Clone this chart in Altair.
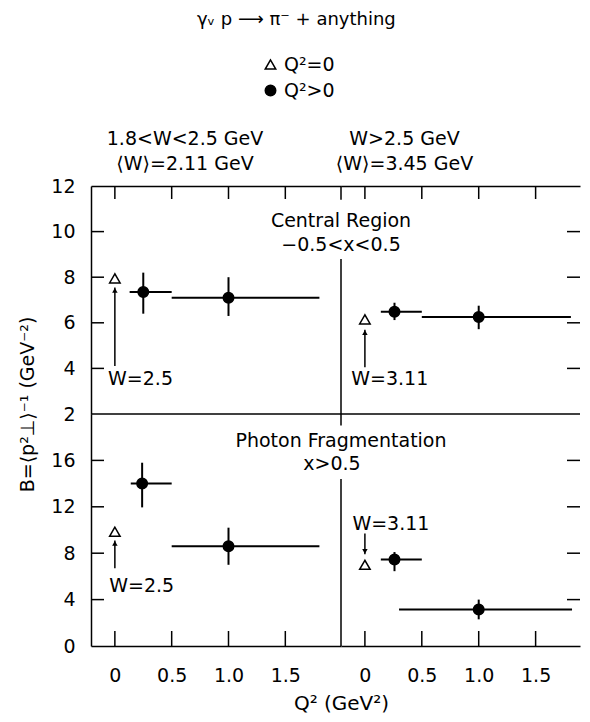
import altair as alt
import pandas as pd

FONT = "DejaVu Sans"
INK = "black"

# ---------------- data ----------------
# Q^2 > 0 points (filled circles) with error bars
q2p_panel = ["TL", "TL", "TR", "TR", "BL", "BL", "BR", "BR"]
q2p_x = [0.25, 1.0, 0.26, 1.0, 0.24, 1.0, 0.26, 1.0]
q2p_xlo = [0.13, 0.5, 0.14, 0.5, 0.14, 0.5, 0.14, 0.3]
q2p_xhi = [0.5, 1.8, 0.5, 1.81, 0.5, 1.8, 0.5, 1.82]
q2p_B = [7.35, 7.1, 6.48, 6.25, 14.0, 8.6, 7.45, 3.15]
q2p_Blo = [6.4, 6.3, 6.12, 5.72, 11.95, 7.0, 6.45, 2.3]
q2p_Bhi = [8.2, 8.0, 6.88, 6.75, 15.8, 10.2, 8.1, 4.0]

# Q^2 = 0 points (open triangles)
q20_panel = ["TL", "TR", "BL", "BR"]
q20_x = [0.0, 0.0, 0.0, 0.0]
q20_B = [7.95, 6.15, 9.85, 7.0]

# W arrows pointing at the Q^2 = 0 points
arrow_panel = ["TL", "TR", "BL", "BR"]
arrow_x = [0.0, 0.0, 0.0, 0.0]
arrow_from = [4.1, 4.05, 6.7, 9.7]
arrow_to = [7.55, 5.7, 9.1, 7.9]
arrow_text = ["W=2.5", "W=3.11", "W=2.5", "W=3.11"]
arrow_text_x = [-0.06, -0.12, -0.05, -0.11]
arrow_text_y = [3.55, 3.55, 5.2, 10.5]

# region labels (written across the central divider)
region_panel = ["TL", "TL", "BL", "BL"]
region_text = ["Central Region", "\u22120.5<x<0.5", "Photon Fragmentation", "x>0.5"]
region_x = [1.99, 1.99, 1.99, 1.91]
region_y = [10.48, 9.4, 17.7, 15.65]

# central divider segments (gaps left for the region labels)
div_panel = ["TL", "TL", "BL", "BL"]
div_lo = [2.0, 11.4, 0.0, 19.0]
div_hi = [8.8, 12.0, 14.4, 20.0]
div_x = 1.99

# axes
x_dom_left = [-0.21, 1.99]
x_dom_right = [-0.21, 1.89]
y_dom_top = [2, 12]
y_dom_bot = [0, 20]
x_tick_vals = [0, 0.5, 1.0, 1.5]
y_ticks_top = [4, 6, 8, 10]
y_ticks_bot = [4, 8, 12, 16]
y_labels_top = [2, 4, 6, 8, 10, 12]
y_labels_bot = [0, 4, 8, 12, 16]

kinds = ["Q\u00b2=0", "Q\u00b2>0"]
headers = {
    "TL": ["1.8<W<2.5 GeV", "\u27e8W\u27e9=2.11 GeV"],
    "TR": ["W>2.5 GeV", "\u27e8W\u27e9=3.45 GeV"],
}
main_title = "\u03b3\u1d65 p \u27f6 \u03c0\u207b + anything"
y_title = "B=\u27e8p\u00b2\u22a5\u27e9\u207b\u00b9 (GeV\u207b\u00b2)"
x_title = "Q\u00b2 (GeV\u00b2)"

# ---------------- tables ----------------
pts = pd.DataFrame({
    "panel": q2p_panel + q20_panel,
    "x": q2p_x + q20_x,
    "B": q2p_B + q20_B,
    "kind": [kinds[1]] * len(q2p_x) + [kinds[0]] * len(q20_x),
})
bars = pd.DataFrame({"panel": q2p_panel, "x": q2p_x, "xlo": q2p_xlo, "xhi": q2p_xhi,
                     "B": q2p_B, "Blo": q2p_Blo, "Bhi": q2p_Bhi})
arrows = pd.DataFrame({"panel": arrow_panel, "x": arrow_x, "from": arrow_from, "to": arrow_to,
                       "text": arrow_text, "tx": arrow_text_x, "ty": arrow_text_y})
arrows["dir"] = ["up" if t > f else "down" for f, t in zip(arrow_from, arrow_to)]
regions = pd.DataFrame({"panel": region_panel, "text": region_text, "x": region_x, "y": region_y})
divs = pd.DataFrame({"panel": div_panel, "lo": div_lo, "hi": div_hi, "x": [div_x] * len(div_lo)})

shape_scale = alt.Scale(domain=kinds, range=["triangle-up", "circle"])
fill_scale = alt.Scale(domain=kinds, range=["white", "black"])
stroke_scale = alt.Scale(domain=kinds, range=["black", "black"])
legend = alt.Legend(title=None, orient="none", legendX=170, legendY=-131,
                    direction="vertical", symbolSize=110, symbolStrokeColor=INK,
                    symbolStrokeWidth=1.5, labelFont=FONT, labelFontSize=19,
                    labelOffset=4, rowPadding=6, labelColor=INK)


def make_panel(p, W, H, xdom, ydom):
    top = p[0] == "T"
    left = p[1] == "L"
    xs = alt.Scale(domain=xdom, nice=False, zero=False)
    ys = alt.Scale(domain=ydom, nice=False, zero=False)
    if top:
        xaxis = alt.Axis(orient="top", labels=False, ticks=False, domain=True, grid=False,
                         title=None, domainColor=INK, domainWidth=1.5)
    else:
        xaxis = alt.Axis(orient="bottom", values=x_tick_vals, ticks=False, domain=True, grid=False,
                         labelExpr="datum.value == 0 ? '0' : format(datum.value, '.1f')",
                         labelPadding=20, labelFont=FONT, labelFontSize=19, labelColor=INK,
                         domainColor=INK, domainWidth=1.5,
                         title=(x_title if left else None),
                         titleX=W, titleY=57, titleAlign="center", titleBaseline="middle",
                         titleFont=FONT, titleFontSize=20, titleFontWeight="normal", titleColor=INK)
    if left:
        yaxis = alt.Axis(orient="left", values=(y_labels_top if top else y_labels_bot),
                         ticks=False, domain=True, grid=False, labelPadding=16,
                         labelFont=FONT, labelFontSize=19, labelColor=INK,
                         domainColor=INK, domainWidth=1.5,
                         title=(y_title if top else None),
                         titleX=-64, titleY=218, titleAngle=-90, titleAlign="center",
                         titleBaseline="middle", titleFont=FONT, titleFontSize=19,
                         titleFontWeight="normal", titleColor=INK)
    else:
        yaxis = None

    b = bars[bars.panel == p]
    hb = alt.Chart(b).mark_rule(color=INK, strokeWidth=2).encode(
        x=alt.X("xlo:Q", scale=xs, axis=xaxis), x2="xhi:Q",
        y=alt.Y("B:Q", scale=ys, axis=yaxis))
    vb = alt.Chart(b).mark_rule(color=INK, strokeWidth=2).encode(
        x=alt.X("x:Q", scale=xs), y=alt.Y("Blo:Q", scale=ys), y2="Bhi:Q")
    pt = alt.Chart(pts[pts.panel == p]).mark_point(
        filled=True, strokeWidth=1.5, size=110, opacity=1).encode(
        x=alt.X("x:Q", scale=xs), y=alt.Y("B:Q", scale=ys),
        shape=alt.Shape("kind:N", scale=shape_scale, legend=legend),
        fill=alt.Fill("kind:N", scale=fill_scale, legend=legend),
        stroke=alt.Stroke("kind:N", scale=stroke_scale, legend=legend))
    a = arrows[arrows.panel == p]
    shaft = alt.Chart(a).mark_rule(color=INK, strokeWidth=1.5).encode(
        x=alt.X("x:Q", scale=xs), y=alt.Y("from:Q", scale=ys), y2="to:Q")
    head_up = alt.Chart(a[a.dir == "up"]).mark_point(
        shape="triangle-up", filled=True, color=INK, size=30, yOffset=3, opacity=1).encode(
        x=alt.X("x:Q", scale=xs), y=alt.Y("to:Q", scale=ys))
    head_dn = alt.Chart(a[a.dir == "down"]).mark_point(
        shape="triangle-down", filled=True, color=INK, size=30, yOffset=-3, opacity=1).encode(
        x=alt.X("x:Q", scale=xs), y=alt.Y("to:Q", scale=ys))
    wtxt = alt.Chart(a).mark_text(align="left", baseline="middle", font=FONT, fontSize=19,
                                  color=INK).encode(
        x=alt.X("tx:Q", scale=xs), y=alt.Y("ty:Q", scale=ys), text="text:N")

    ytv = y_ticks_top if top else y_ticks_bot
    ytick_df = pd.DataFrame({"v": ytv})
    if left:
        ytk = alt.Chart(ytick_df).mark_rule(color=INK, strokeWidth=1.5).encode(
            y=alt.Y("v:Q", scale=ys), x=alt.value(0), x2=alt.value(13))
    else:
        ytk = alt.Chart(ytick_df).mark_rule(color=INK, strokeWidth=1.5).encode(
            y=alt.Y("v:Q", scale=ys), x=alt.value(W - 13), x2=alt.value(W))
    xtick_df = pd.DataFrame({"v": x_tick_vals})
    if top:
        xtk = alt.Chart(xtick_df).mark_rule(color=INK, strokeWidth=1.5).encode(
            x=alt.X("v:Q", scale=xs), y=alt.value(0), y2=alt.value(13))
    else:
        xtk = alt.Chart(xtick_df).mark_rule(color=INK, strokeWidth=1.5).encode(
            x=alt.X("v:Q", scale=xs), y=alt.value(H - 15), y2=alt.value(H))

    layers = [hb, vb, shaft, head_up, head_dn, pt, wtxt, ytk, xtk]
    if top:
        mid = alt.Chart(pd.DataFrame({"a": [xdom[0]], "b": [xdom[1]], "y": [ydom[0]]})).mark_rule(
            color=INK, strokeWidth=1.5).encode(
            x=alt.X("a:Q", scale=xs), x2="b:Q", y=alt.Y("y:Q", scale=ys))
        layers.append(mid)
    if left:
        d = divs[divs.panel == p]
        dv = alt.Chart(d).mark_rule(color=INK, strokeWidth=1.5).encode(
            x=alt.X("x:Q", scale=xs), y=alt.Y("lo:Q", scale=ys), y2="hi:Q")
        r = regions[regions.panel == p]
        rt = alt.Chart(r).mark_text(align="center", baseline="middle", font=FONT, fontSize=19,
                                    color=INK).encode(
            x=alt.X("x:Q", scale=xs), y=alt.Y("y:Q", scale=ys), text="text:N")
        layers += [dv, rt]

    ch = alt.layer(*layers).properties(width=W, height=H)
    if top:
        ch = ch.properties(title=alt.TitleParams(
            text=headers[p], anchor="middle", frame="group", dx=(-31 if left else -56),
            offset=(3 if left else 11), font=FONT, fontSize=19, fontWeight="normal",
            color=INK, lineHeight=25))
    return ch


TL = make_panel("TL", 250, 228, x_dom_left, y_dom_top)
TR = make_panel("TR", 239, 228, x_dom_right, y_dom_top)
BL = make_panel("BL", 250, 232, x_dom_left, y_dom_bot)
BR = make_panel("BR", 239, 232, x_dom_right, y_dom_bot)

chart = alt.concat(TL, TR, BL, BR, columns=2, spacing=0, bounds="flush").properties(
    title=alt.TitleParams(text=main_title, anchor="middle", dx=-3, offset=26, font=FONT,
                          fontSize=18, fontWeight="normal", color=INK),
    padding={"left": 10, "top": 3, "right": 0, "bottom": 0},
    background="white",
).configure(view=alt.ViewConfig(stroke="transparent", strokeWidth=0))

chart.save("out.html", embed_options={"renderer": "svg", "actions": False})
